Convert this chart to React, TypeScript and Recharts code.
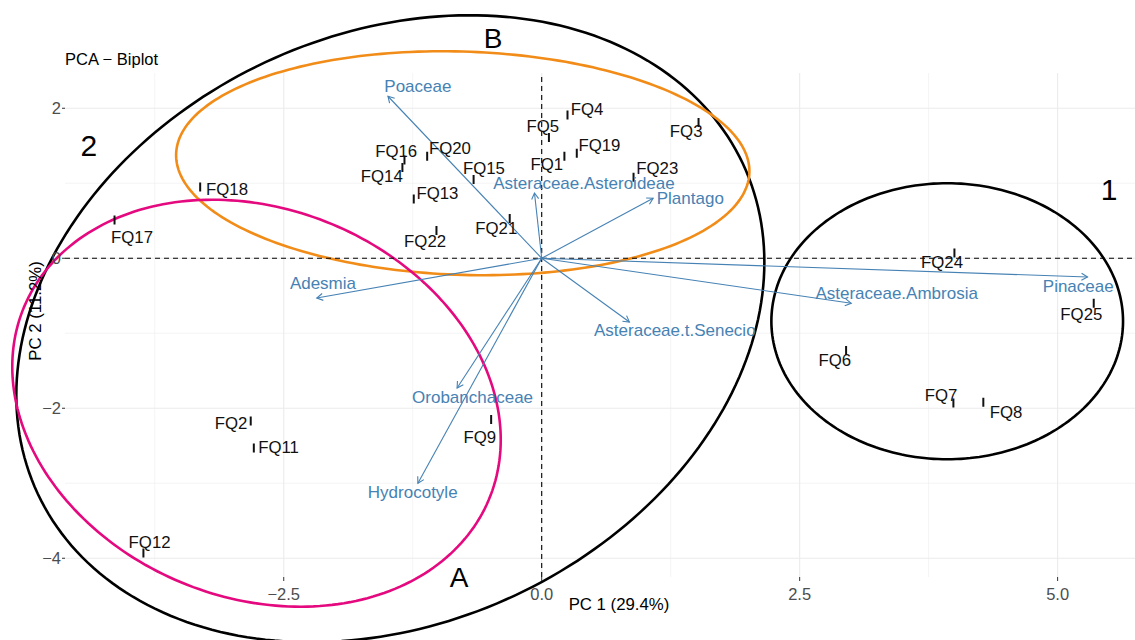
import React from "react";
import { ScatterChart, Scatter, XAxis, YAxis, CartesianGrid, ReferenceLine, ReferenceArea, ReferenceDot } from "recharts";

const W = 1135;
const H = 640;
const FONT = '"Liberation Sans", Arial, Helvetica, sans-serif';
const BLUE = "#4682b4";

// sample scores
const samples = ["FQ1", "FQ2", "FQ3", "FQ4", "FQ5", "FQ6", "FQ7", "FQ8", "FQ9", "FQ11", "FQ12", "FQ13",
  "FQ14", "FQ15", "FQ16", "FQ17", "FQ18", "FQ19", "FQ20", "FQ21", "FQ22", "FQ23", "FQ24", "FQ25"];
const pc1 = [0.22, -2.82, 1.52, 0.25, 0.07, 2.95, 3.99, 4.28, -0.49, -2.79, -3.86, -1.24,
  -1.35, -0.66, -1.33, -4.14, -3.31, 0.34, -1.11, -0.31, -1.02, 0.89, 4.0, 5.35];
const pc2 = [1.36, -2.17, 1.81, 1.91, 1.61, -1.23, -1.93, -1.92, -2.15, -2.53, -3.93, 0.79,
  1.21, 1.05, 1.31, 0.51, 0.95, 1.4, 1.36, 0.53, 0.37, 1.08, 0.07, -0.6];
// repelled label positions
const labelPc1 = [0.05, -3.01, 1.4, 0.44, 0.01, 2.84, 3.87, 4.5, -0.6, -2.55, -3.8, -1.01,
  -1.55, -0.56, -1.41, -3.97, -3.05, 0.56, -0.89, -0.44, -1.13, 1.12, 3.88, 5.23];
const labelPc2 = [1.25, -2.2, 1.69, 1.99, 1.76, -1.36, -1.83, -2.05, -2.39, -2.52, -3.79, 0.87,
  1.09, 1.2, 1.43, 0.28, 0.92, 1.51, 1.47, 0.4, 0.23, 1.2, -0.05, -0.75];

// variable loadings
const variables = ["Poaceae", "Asteraceae.Asteroideae", "Plantago", "Adesmia", "Orobanchaceae",
  "Hydrocotyle", "Asteraceae.t.Senecio", "Asteraceae.Ambrosia", "Pinaceae"];
const loadPc1 = [-1.49, -0.07, 1.08, -2.18, -0.82, -1.2, 0.85, 3.0, 5.29];
const loadPc2 = [2.16, 0.87, 0.8, -0.53, -1.73, -3.0, -0.85, -0.6, -0.25];
const varLabelPc1 = [-1.2, 0.41, 1.44, -2.12, -0.67, -1.25, 1.29, 3.44, 5.2];
const varLabelPc2 = [2.29, 1.0, 0.8, -0.33, -1.85, -3.12, -0.96, -0.47, -0.37];

// group ellipses: centre + shape matrix
const ellipseColors = ["#000000", "#f28c18", "#e5097f", "#000000"];
const ellCx = [-1.467, -0.765, -2.764, 3.93];
const ellCy = [-0.94, 1.267, -1.933, -0.84];
const ellSxx = [13.14, 7.718, 5.603, 2.904];
const ellSxy = [3.215, -0.297, -1.153, 0];
const ellSyy = [17.47, 2.229, 7.361, 3.386];

// group letters
const groupText = ["2", "1", "A", "B"];
const groupPc1 = [-4.39, 5.5, -0.8, -0.47];
const groupPc2 = [1.51, 0.92, -4.26, 2.93];
const groupSize = [30, 30, 28, 28];

const xTicks = [-2.5, 0, 2.5, 5];
const yTicks = [-4, -2, 0, 2];
const xMinor = [-3.75, -1.25, 1.25, 3.75];
const yMinor = [-3, -1, 1];
const xDomain = [-4.62, 5.75];
const yDomain = [-4.25, 2.47];

const sampleData = samples.map((name, i) => ({ name, x: pc1[i], y: pc2[i] }));
const sampleLabels = samples.map((name, i) => ({ name, x: labelPc1[i], y: labelPc2[i] }));
const varLabels = variables.map((name, i) => ({ name, x: varLabelPc1[i], y: varLabelPc2[i] }));

function chol(i: number) {
  const l11 = Math.sqrt(ellSxx[i]);
  const l21 = ellSxy[i] / l11;
  const l22 = Math.sqrt(ellSyy[i] - l21 * l21);
  return { l11, l21, l22 };
}

// ReferenceArea spans cx±l11, cy±l22; the shape turns that box into the tilted ellipse
const ellipseShape = (i: number) => (p: any) => {
  const { x, y, width, height } = p;
  const { l21, l22 } = chol(i);
  const r = l21 / l22;
  const xc = x + width / 2;
  const yc = y + height / 2;
  let d = "";
  for (let k = 0; k <= 240; k++) {
    const t = (k / 240) * Math.PI * 2;
    const px = xc + (width / 2) * Math.cos(t);
    const py = yc - (height / 2) * (r * Math.cos(t) + Math.sin(t));
    d += (k === 0 ? "M" : "L") + px.toFixed(2) + "," + py.toFixed(2);
  }
  return <path d={d} fill="none" stroke={ellipseColors[i]} strokeWidth={2.6} />;
};

const Arrow = (p: any) => {
  const { x1, y1, x2, y2 } = p;
  const ang = Math.atan2(y2 - y1, x2 - x1);
  const len = 7;
  const a1 = ang + Math.PI - Math.PI / 6;
  const a2 = ang + Math.PI + Math.PI / 6;
  return (
    <g>
      <line x1={x1} y1={y1} x2={x2} y2={y2} stroke={BLUE} strokeWidth={1.1} />
      <polyline
        points={`${x2 + len * Math.cos(a1)},${y2 + len * Math.sin(a1)} ${x2},${y2} ${x2 + len * Math.cos(a2)},${y2 + len * Math.sin(a2)}`}
        fill="none" stroke={BLUE} strokeWidth={1.1}
      />
    </g>
  );
};

const fmtX = (v: number) => v.toFixed(1).replace("-", "\u2212");
const fmtY = (v: number) => String(v).replace("-", "\u2212");

export default function App() {
  return (
    <div style={{ position: "absolute", left: 0, top: 0, width: W, height: H, background: "#fff", fontFamily: FONT }}>
      <ScatterChart width={W} height={H} margin={{ top: 73, right: 0, bottom: 0, left: 0 }}>
        <CartesianGrid horizontalValues={yMinor} verticalValues={xMinor} stroke="#ededed" strokeWidth={0.6} />
        <CartesianGrid horizontalValues={yTicks} verticalValues={xTicks} stroke="#ebebeb" strokeWidth={1.1} />
        <XAxis
          type="number" dataKey="x" height={63}
          domain={xDomain} allowDataOverflow
          ticks={xTicks} interval={0} tickFormatter={fmtX}
          axisLine={false} tickSize={4} tickMargin={7}
          tickLine={{ stroke: "#333", strokeWidth: 1 }}
          tick={{ fill: "#4d4d4d", fontSize: 16.5, fontFamily: FONT }}
        />
        <YAxis
          type="number" dataKey="y" width={65}
          domain={yDomain} allowDataOverflow
          ticks={yTicks} interval={0} tickFormatter={fmtY}
          axisLine={false} tickSize={3} tickMargin={1}
          tickLine={{ stroke: "#333", strokeWidth: 1 }}
          tick={{ fill: "#4d4d4d", fontSize: 16.5, fontFamily: FONT }}
        />
        <ReferenceLine x={0} stroke="#000" strokeDasharray="5 4" strokeWidth={1.1} />
        <ReferenceLine y={0} stroke="#000" strokeDasharray="5 4" strokeWidth={1.1} />

        {variables.map((v, i) => (
          <ReferenceLine
            key={v}
            segment={[{ x: 0, y: 0 }, { x: loadPc1[i], y: loadPc2[i] }]}
            ifOverflow="visible"
            shape={Arrow}
          />
        ))}

        {ellipseColors.map((c, i) => {
          const { l11, l21, l22 } = chol(i);
          return (
            <ReferenceArea
              key={"ell" + i}
              x1={ellCx[i] - l11} x2={ellCx[i] + l11}
              y1={ellCy[i] - l22} y2={ellCy[i] + l22}
              ifOverflow="visible"
              shape={ellipseShape(i)}
            />
          );
        })}

        {groupText.map((g, i) => (
          <ReferenceDot
            key={"g" + g}
            x={groupPc1[i]} y={groupPc2[i]}
            ifOverflow="visible"
            shape={(p: any) => (
              <text x={p.cx} y={p.cy} textAnchor="middle" dominantBaseline="central"
                fontSize={groupSize[i]} fontFamily={FONT} fill="#000">{g}</text>
            )}
          />
        ))}

        <Scatter
          data={sampleData}
          isAnimationActive={false}
          shape={(p: any) => (
            <line x1={p.cx} x2={p.cx} y1={p.cy - 4.5} y2={p.cy + 4.5} stroke="#111" strokeWidth={2} />
          )}
        />
        <Scatter
          data={sampleLabels}
          isAnimationActive={false}
          shape={(p: any) => (
            <text x={p.cx} y={p.cy} textAnchor="middle" dominantBaseline="central"
              fontSize={16.8} fontFamily={FONT} fill="#111">{p.payload.name}</text>
          )}
        />
        <Scatter
          data={varLabels}
          isAnimationActive={false}
          shape={(p: any) => (
            <text x={p.cx} y={p.cy} textAnchor="middle" dominantBaseline="central"
              fontSize={17} fontFamily={FONT} fill={BLUE}>{p.payload.name}</text>
          )}
        />
      </ScatterChart>
      <svg width={W} height={H} style={{ position: "absolute", left: 0, top: 0, pointerEvents: "none" }}>
        <text x={65} y={65} fontSize={16.5} fontFamily={FONT} fill="#000">PCA − Biplot</text>
        <text x={619} y={610} fontSize={16.8} fontFamily={FONT} fill="#000" textAnchor="middle">PC 1 (29.4%)</text>
        <text x={35} y={311} fontSize={16.8} fontFamily={FONT} fill="#000" textAnchor="middle"
          dominantBaseline="central" transform="rotate(-90, 35, 311)">PC 2 (11.2%)</text>
      </svg>
    </div>
  );
}
